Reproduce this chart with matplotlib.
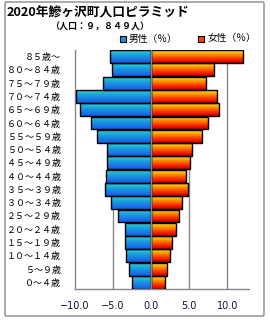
import numpy as np
import matplotlib
matplotlib.use("Agg")
import matplotlib.pyplot as plt
from matplotlib.colors import LinearSegmentedColormap
from matplotlib.patches import Rectangle, FancyBboxPatch

plt.rcParams['font.family'] = ['Noto Sans CJK JP', 'DejaVu Sans']

# ===== データ (下から上へ: 0～4歳 → 85歳～) =====
age_groups = ["０～４歳", "５～９歳", "１０～１４歳", "１５～１９歳", "２０～２４歳",
              "２５～２９歳", "３０～３４歳", "３５～３９歳", "４０～４４歳", "４５～４９歳",
              "５０～５４歳", "５５～５９歳", "６０～６４歳", "６５～６９歳", "７０～７４歳",
              "７５～７９歳", "８０～８４歳", "８５歳～"]
male_pct = [2.5, 2.9, 3.3, 3.4, 3.4, 4.3, 5.3, 6.1, 5.9, 5.8,
            5.8, 7.1, 7.9, 9.3, 9.9, 6.3, 5.1, 5.4]
female_pct = [1.8, 2.1, 2.5, 2.8, 3.2, 3.7, 4.0, 4.8, 4.6, 5.1,
              5.3, 6.7, 7.5, 8.9, 8.7, 7.2, 8.2, 12.0]
x_ticks = [-10, -5, 0, 5, 10]

male_cmap = LinearSegmentedColormap.from_list("male", ["#1a5ae6", "#1a90e0", "#22d6d2"])
female_cmap = LinearSegmentedColormap.from_list("female", ["#c00000", "#ff3000", "#ff9000", "#ffe800"])

fig = plt.figure(figsize=(2.7, 3.2), dpi=100)
ax = fig.add_axes([75/270, 31/320, 174/270, 239/320])

y = np.arange(len(age_groups))
grad = np.linspace(0, 1, 64).reshape(-1, 1)


def gradient_bars(bars, cmap):
    # バーの中に縦グラデーションを描く
    for b in bars:
        x0, y0 = b.get_x(), b.get_y()
        w, h = b.get_width(), b.get_height()
        im = ax.imshow(grad, cmap=cmap, aspect='auto', origin='lower',
                       extent=[x0, x0 + w, y0, y0 + h], zorder=2)
        im.set_clip_path(b)


male_bars = ax.barh(y, [-v for v in male_pct], height=0.97, color='none',
                    edgecolor='black', linewidth=1.0, zorder=3)
female_bars = ax.barh(y, female_pct, height=0.97, color='none',
                      edgecolor='black', linewidth=1.0, zorder=3)
gradient_bars(male_bars, male_cmap)
gradient_bars(female_bars, female_cmap)

for xv in x_ticks[1:]:
    ax.axvline(xv, color='#888888', linewidth=1.0, zorder=1 if xv != 0 else 4)

ax.set_xlim(-10, 12.85)
ax.set_ylim(-0.5, len(age_groups) - 0.5)
ax.set_yticks(y)
ax.set_yticklabels(age_groups, fontsize=6.5)
ax.set_xticks(x_ticks)
ax.set_xticklabels([f"{v:.1f}".replace("-", "−") for v in x_ticks],
                   fontsize=7, family='DejaVu Sans', color='#111133')
ax.tick_params(axis='y', length=0, pad=10)
ax.tick_params(axis='x', length=0, pad=8.5)
for side in ['top', 'right']:
    ax.spines[side].set_visible(False)
for side in ['left', 'bottom']:
    ax.spines[side].set_color('#888888')
    ax.spines[side].set_linewidth(1.0)

# 外枠
fig.patches.append(FancyBboxPatch((5/270, 4/320), 259/270, 314/320,
                                  boxstyle="round,pad=0,rounding_size=0.005",
                                  transform=fig.transFigure, fill=False,
                                  edgecolor='#888888', linewidth=1.0))

fig.text(7/270, 1 - 13/320, "2020年鰺ヶ沢町人口ピラミッド", fontsize=9.2,
         weight='bold', va='center', ha='left',
         bbox=dict(facecolor='white', edgecolor='none', pad=1))
fig.text(100/270, 1 - 27/320, "（人口：９，８４９人）", fontsize=6.5,
         weight='bold', va='center', ha='center')

# 凡例
fig.patches.append(Rectangle((120/270, 1 - 42/320), 6/270, 6/320,
                             transform=fig.transFigure, facecolor='#1a90e0',
                             edgecolor='black', linewidth=0.8))
fig.text(129/270, 1 - 38.5/320, "男性（％）", fontsize=7, va='center', ha='left')
fig.patches.append(Rectangle((198/270, 1 - 42/320), 6/270, 6/320,
                             transform=fig.transFigure, facecolor='#ff4000',
                             edgecolor='black', linewidth=0.8))
fig.text(207/270, 1 - 38.5/320, "女性（％）", fontsize=7, va='center', ha='left')

fig.savefig("out.png", dpi=100)
